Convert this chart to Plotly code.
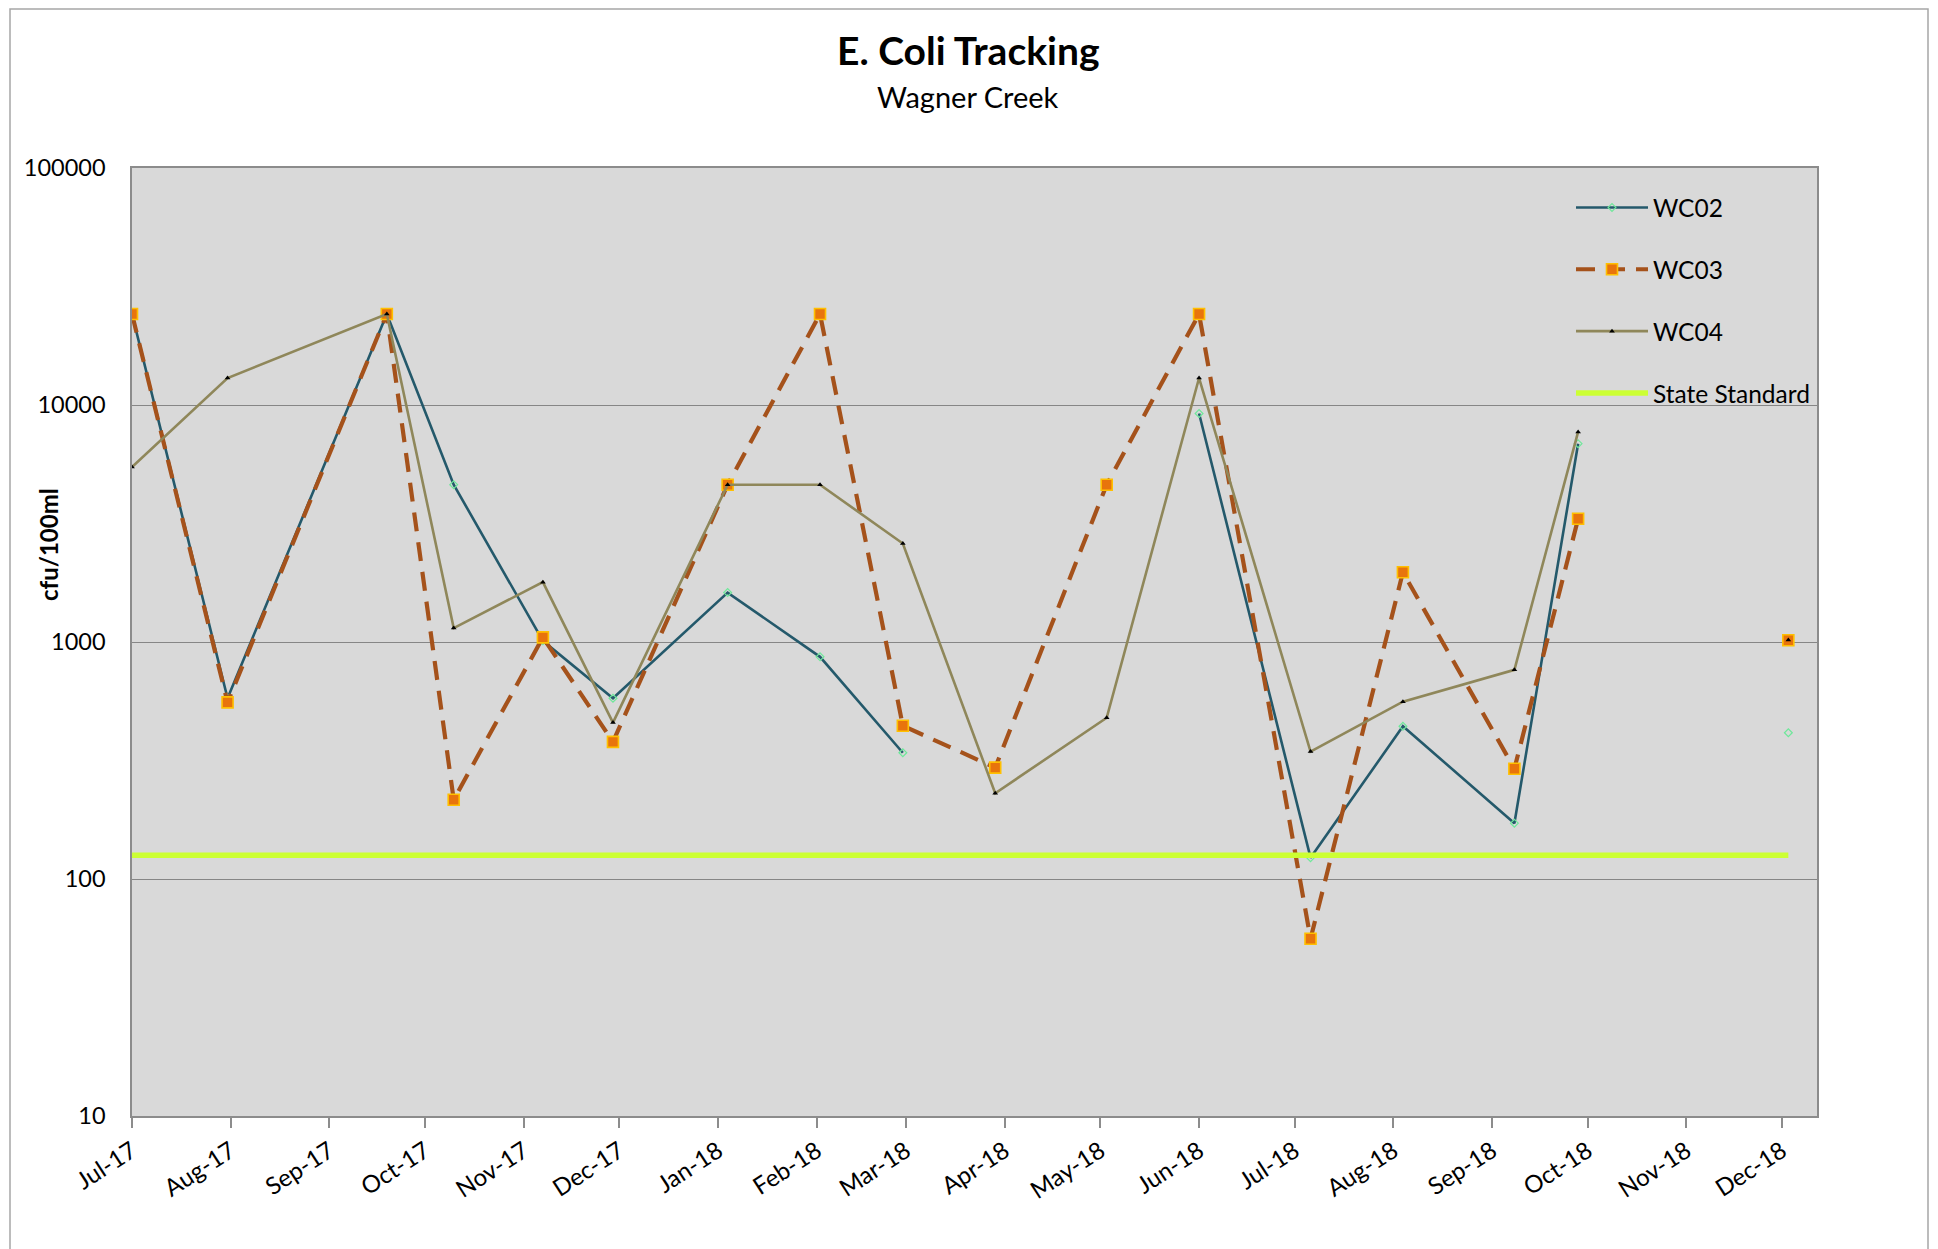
import plotly.graph_objects as go

# sample dates (one row per sampling run; the Nov-18 row has no results)
dates = [
    "2017-07-01", "2017-07-31", "2017-09-19", "2017-10-10", "2017-11-07",
    "2017-11-29", "2018-01-04", "2018-02-02", "2018-02-28", "2018-03-29",
    "2018-05-03", "2018-06-01", "2018-07-06", "2018-08-04", "2018-09-08",
    "2018-09-28", "2018-11-01", "2018-12-03",
]

wc02 = [24196, 579, 24196, 4611, 1011, 579, 1616, 866, 341, None,
        None, 9208, 123, 441, 172, 6867, None, 414]
wc03 = [24196, 556, 24196, 216, 1046, 379, 4611, 24196, 443, 295,
        4611, 24196, 56, 1968, 292, 3310, None, 1017]
wc04 = [5475, 12997, 24196, 1145, 1789, 457, 4611, 4611, 2603, 230,
        479, 12997, 345, 560, 763, 7701, None, 1020]
state_standard = [126, 126, 126, 126, 126, 126, 126, 126, 126, 126,
                  126, 126, 126, 126, 126, 126, 126, 126]

y_ticks = [10, 100, 1000, 10000, 100000]

FONT = "Lato, 'Open Sans', sans-serif"

# the page body has an 8px margin, so the figure is drawn 8px in from the window edge
OFF = 8
W, H = 1938 - OFF, 1249 - OFF
L, T = 132 - OFF, 168 - OFF
R = W - (1817 - OFF)
B = H - (1116 - OFF)
PW, PH = W - L - R, H - T - B


def px_x(px):
    # window pixel -> paper x
    return (px - OFF - L) / PW


def px_y(py):
    # window pixel -> paper y
    return (H - B - (py - OFF)) / PH


fig = go.Figure()

fig.add_trace(go.Scatter(
    x=dates, y=wc02, name="WC02", mode="lines+markers",
    line=dict(color="#24596B", width=2.6),
    marker=dict(symbol="diamond-open", size=6, color="#6EE89A",
                line=dict(width=1.2, color="#6EE89A")),
    connectgaps=False, legendgroup="a",
))
fig.add_trace(go.Scatter(
    x=dates, y=wc03, name="WC03", mode="lines+markers",
    line=dict(color="#A5521B", width=4.2, dash="19px,11px"),
    marker=dict(symbol="square", size=11, color="#E8740C",
                line=dict(width=1.6, color="#FFC000")),
    connectgaps=False, legendgroup="b",
))
fig.add_trace(go.Scatter(
    x=dates, y=wc04, name="WC04", mode="lines+markers",
    line=dict(color="#8F875A", width=2.6),
    marker=dict(symbol="triangle-up", size=5, color="#000000"),
    connectgaps=False, legendgroup="c",
))
fig.add_trace(go.Scatter(
    x=dates, y=state_standard, name="State Standard", mode="lines",
    line=dict(color="#CCFF33", width=5.5),
    legendgroup="d",
))

fig.update_layout(
    width=W, height=H,
    margin=dict(l=L, r=R, t=T, b=B),
    paper_bgcolor="white",
    plot_bgcolor="#D9D9D9",
    font=dict(family=FONT, color="#000000", size=22),
    showlegend=True,
    legend=dict(
        x=px_x(1571), y=px_y(185), xanchor="left", yanchor="top",
        bgcolor="rgba(0,0,0,0)", font=dict(size=24.5),
        tracegroupgap=27, itemwidth=72,
    ),
    xaxis=dict(
        type="date",
        range=["2017-07-01", "2018-12-12"],
        tick0="2017-07-01", dtick="M1", tickformat="%b-%y",
        tickangle=-33, tickfont=dict(size=24),
        showgrid=False, zeroline=False,
        showline=True, linecolor="#8C8C8C", linewidth=1.5, mirror=True,
        ticks="outside", ticklen=10, tickcolor="#8C8C8C", tickwidth=1.5,
    ),
    yaxis=dict(
        type="log", range=[1, 5],
        tickvals=y_ticks, tickformat="d", tickfont=dict(size=23.5),
        ticklabelstandoff=20,
        showgrid=True, gridcolor="#868686", gridwidth=1.3,
        showline=True, linecolor="#8C8C8C", linewidth=1.5, mirror=True,
        ticks="", zeroline=False,
    ),
    annotations=[
        dict(text="<b>E. Coli Tracking</b>", xref="paper", yref="paper",
             x=px_x(968), y=px_y(50), xanchor="center", yanchor="middle",
             showarrow=False, font=dict(size=39)),
        dict(text="Wagner Creek", xref="paper", yref="paper",
             x=px_x(968), y=px_y(97), xanchor="center", yanchor="middle",
             showarrow=False, font=dict(size=29)),
        dict(text="<b>cfu/100ml</b>", xref="paper", yref="paper",
             x=px_x(48), y=px_y(545), xanchor="center", yanchor="middle",
             textangle=-90, showarrow=False, font=dict(size=24)),
    ],
    shapes=[
        dict(type="rect", xref="paper", yref="paper",
             x0=px_x(10), x1=px_x(1928), y0=px_y(1270), y1=px_y(9),
             line=dict(color="#A6A6A6", width=1.5), layer="below"),
    ],
)

fig.write_html("out.html")
